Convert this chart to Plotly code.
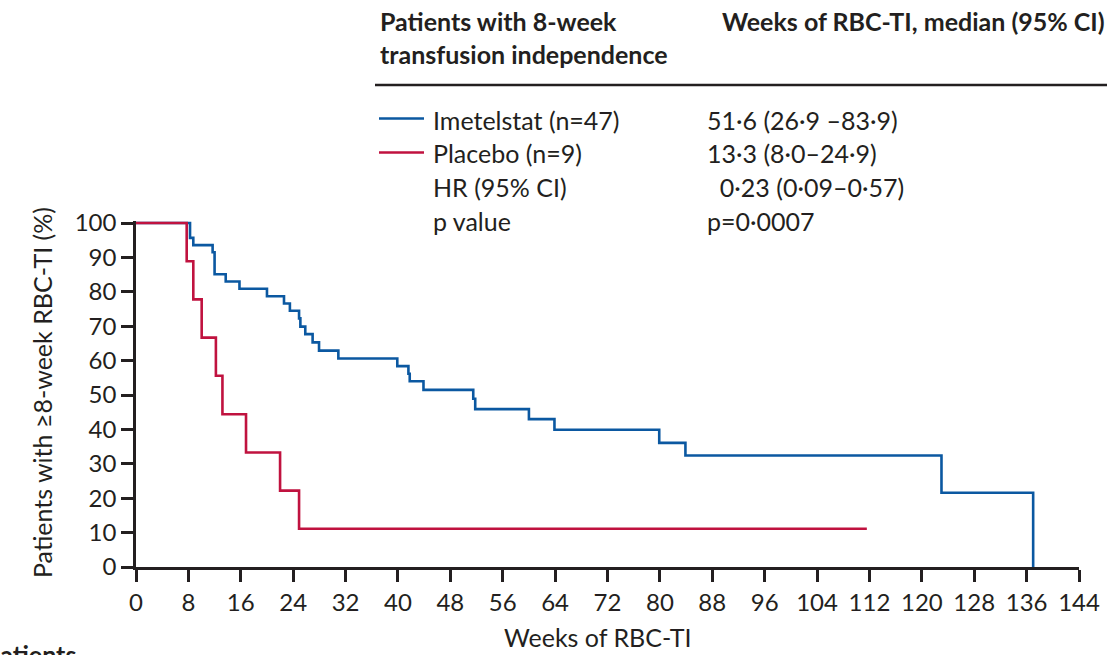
import plotly.graph_objects as go

# Kaplan-Meier step data: week of event and % still transfusion independent
imetelstat_weeks = [0, 8.25, 8.75, 11.7, 12.0, 13.7, 15.8, 20.0, 22.6, 23.5, 24.9, 25.1,
                    25.85, 26.97, 27.95, 30.9, 39.9, 41.6, 41.8, 43.9, 51.5, 51.8,
                    60.0, 63.9, 79.9, 83.9, 123.0, 137.0]
imetelstat_pct = [100, 95.7, 93.6, 91.5, 85.1, 83.0, 80.9, 78.7, 76.6, 74.5, 72.3, 69.9,
                  67.7, 65.3, 62.9, 60.6, 58.4, 56.2, 54.0, 51.5, 48.9, 45.9,
                  43.0, 39.9, 36.1, 32.4, 21.6, 0]

placebo_weeks = [0, 7.74, 8.75, 10.03, 12.2, 13.2, 16.8, 22.0, 24.9, 111.6]
placebo_pct = [100, 88.9, 77.8, 66.7, 55.6, 44.4, 33.3, 22.2, 11.1, 11.1]

x_ticks = list(range(0, 145, 8))
y_ticks = list(range(0, 101, 10))

table_header_left = "Patients with 8-week<br>transfusion independence"
table_header_right = "Weeks of RBC-TI, median (95% CI)"
row_labels = ["Imetelstat (n=47)", "Placebo (n=9)", "HR (95% CI)", "p value"]
row_values = ["51·6 (26·9 –83·9)", "13·3 (8·0–24·9)", "  0·23 (0·09–0·57)", "p=0·0007"]

BLUE = "#0b58a1"
RED = "#c0123f"
INK = "#231f20"
FONT = "Lato"
FS = 25

W, H = 1114, 655
L, R, T, B = 136, 1079, 221, 567  # plot area in pixels


def px(x):
    return (x - L) / (R - L)


def py(y):
    return (B - y) / (B - T)


fig = go.Figure()
fig.add_trace(go.Scatter(x=imetelstat_weeks, y=imetelstat_pct, mode="lines",
                         line=dict(color=BLUE, width=2.6, shape="hv"),
                         name="Imetelstat", showlegend=False))
fig.add_trace(go.Scatter(x=placebo_weeks, y=placebo_pct, mode="lines",
                         line=dict(color=RED, width=2.6, shape="hv"),
                         name="Placebo", showlegend=False))

axis_common = dict(showgrid=False, zeroline=False, showline=True, linecolor=INK,
                   linewidth=2.5, ticks="outside", ticklen=12, tickwidth=2.5,
                   tickcolor=INK, tickfont=dict(family=FONT, size=24, color=INK))

fig.update_xaxes(range=[0, 144], tickvals=x_ticks, ticktext=[str(t) for t in x_ticks],
                 **axis_common)
fig.update_yaxes(range=[0, 100.6], tickvals=y_ticks, ticktext=[str(t) for t in y_ticks],
                 **axis_common)

ann = []
# axis titles
ann.append(dict(x=px(597), y=py(637), xref="paper", yref="paper", text="Weeks of RBC-TI",
                showarrow=False, xanchor="center", yanchor="middle",
                font=dict(family=FONT, size=FS, color=INK)))
ann.append(dict(x=px(42), y=py(393), xref="paper", yref="paper",
                text="Patients with ≥8-week RBC-TI (%)", textangle=-90,
                showarrow=False, xanchor="center", yanchor="middle",
                font=dict(family=FONT, size=FS, color=INK)))
# table header
ann.append(dict(x=px(378), y=py(4), xref="paper", yref="paper", text=table_header_left,
                showarrow=False, xanchor="left", yanchor="top", align="left",
                font=dict(family=FONT, size=FS, color=INK, weight="bold")))
ann.append(dict(x=px(720), y=py(4), xref="paper", yref="paper", text=table_header_right,
                showarrow=False, xanchor="left", yanchor="top", align="left",
                font=dict(family=FONT, size=FS, color=INK, weight="bold")))
# table rows
row_y = [120, 153, 187, 221]
for lab, val, yy in zip(row_labels, row_values, row_y):
    ann.append(dict(x=px(431), y=py(yy), xref="paper", yref="paper", text=lab,
                    showarrow=False, xanchor="left", yanchor="middle",
                    font=dict(family=FONT, size=FS, color=INK)))
    ann.append(dict(x=px(705), y=py(yy), xref="paper", yref="paper",
                    text=val.replace("  ", "&nbsp;&nbsp;"),
                    showarrow=False, xanchor="left", yanchor="middle",
                    font=dict(family=FONT, size=FS, color=INK)))
# caption line running off the bottom-left edge
ann.append(dict(x=px(-16), y=py(637), xref="paper", yref="paper", text="patients",
                showarrow=False, xanchor="left", yanchor="top",
                font=dict(family=FONT, size=FS, color=INK, weight="bold")))

shapes = [
    dict(type="line", xref="paper", yref="paper", x0=px(375), x1=px(1107),
         y0=py(85), y1=py(85), line=dict(color=INK, width=2.5)),
    dict(type="line", xref="paper", yref="paper", x0=px(379), x1=px(424),
         y0=py(118.5), y1=py(118.5), line=dict(color=BLUE, width=2.5)),
    dict(type="line", xref="paper", yref="paper", x0=px(379), x1=px(424),
         y0=py(152.5), y1=py(152.5), line=dict(color=RED, width=2.5)),
]

fig.update_layout(width=W, height=H, margin=dict(l=L, r=W - R, t=T, b=H - B),
                  paper_bgcolor="white", plot_bgcolor="white",
                  annotations=ann, shapes=shapes, showlegend=False)

fig.write_html("out.html")
